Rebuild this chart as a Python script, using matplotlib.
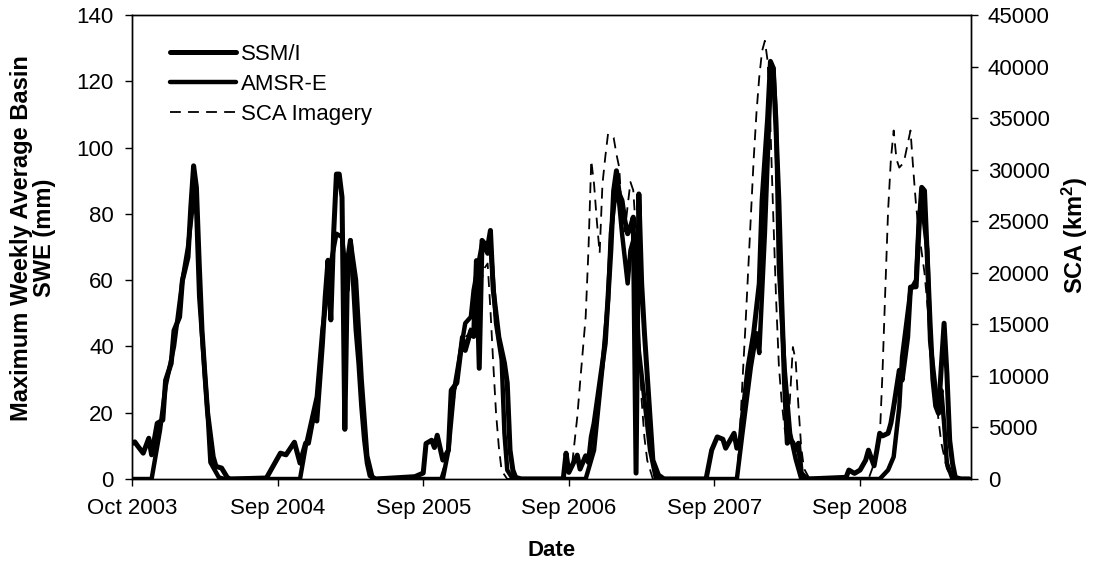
import numpy as np
import pandas as pd
import matplotlib
matplotlib.use("Agg")
import matplotlib.pyplot as plt

plt.rcParams["font.family"] = ["Liberation Sans", "DejaVu Sans"]
plt.rcParams["mathtext.fontset"] = "custom"
plt.rcParams["mathtext.bf"] = "Liberation Sans:bold"
plt.rcParams["mathtext.rm"] = "Liberation Sans"

# --- weekly series, week 0 = 1 Oct 2003 ---
start = pd.Timestamp("2003-10-01")

ssmi_weeks = [0, 1, 2, 4, 6, 7, 9, 11, 12, 14, 15, 17, 18, 20, 21, 22, 23, 24, 25, 26, 27, 29, 30, 32, 34, 35,
              48, 51, 53, 55, 58, 60, 62, 63, 65, 66, 68, 69, 70, 71, 72, 73, 74, 75, 76, 77, 78, 79, 80, 81, 82, 83, 84, 85, 87,
              101, 104, 105, 107, 108, 109, 111, 113, 114, 116, 118, 119, 121, 122, 123, 124, 125, 127, 128, 129, 131, 133, 134, 135, 136, 137, 139,
              154, 155, 156, 159, 160, 162, 163, 164, 165, 167, 169, 171, 172, 173, 174, 175, 176, 177, 178, 179, 180, 181, 182, 183, 185, 186, 188, 190,
              205, 207, 209, 211, 212, 215, 216, 217, 218, 220, 222, 224, 225, 227, 228, 229, 230, 231, 232, 233, 234, 235, 236, 237, 238, 239, 241,
              255, 256, 258, 260, 262, 263, 265, 266, 267, 268, 270, 271, 272, 274, 275, 277, 278, 280, 281, 282, 283, 284, 285, 286, 287, 288, 289, 290, 291, 292, 293, 294, 296, 299]
ssmi_swe = [10.7, 11.2, 10, 7.8, 12.3, 7.3, 16.8, 17.8, 29.8, 34.9, 44.8, 48.9, 59.9, 66.9, 82, 94.5, 88, 65, 44.8, 31.9, 20, 6.7, 3.8, 3.3, 0.5, 0,
            0.3, 4.8, 7.8, 7.3, 11.1, 4.8, 10.8, 10.8, 19.9, 17.5, 40.9, 55, 66, 48, 74, 92, 92, 85, 15, 66, 72, 60, 45, 35, 22, 12, 4.8, 1, 0,
            0.7, 1.8, 10.7, 11.7, 9.5, 13.2, 5.7, 8.7, 26.8, 29, 42.8, 38.8, 44.8, 43, 65.9, 33.4, 72, 70, 75, 57, 42.8, 35, 29, 8.7, 2.7, 0.5, 0,
            0, 7.8, 2, 7.2, 3, 7, 5, 12.7, 16.8, 28.9, 40.9, 69, 87, 93, 86, 84, 78, 74, 76, 79, 1.8, 86, 59, 44, 18.8, 5.7, 1.2, 0,
            0, 8.7, 12.7, 12, 9.3, 13.8, 9.3, 10, 18.8, 33.8, 44, 59, 84, 109, 126, 124, 105, 84, 54, 29, 10.8, 12, 11, 8.7, 10.8, 1.8, 0,
            0.5, 2.7, 1.7, 2.7, 5.7, 8.7, 4, 8.7, 13.8, 13, 13.8, 16.8, 21.8, 32.8, 29.8, 42.8, 57.9, 58, 75, 88, 87, 67, 47, 30, 22, 19.8, 33.8, 47, 32, 11.7, 4.8, 0.5, 0, 0]

amsre_weeks = [0, 7, 10, 12, 15, 18, 20, 22, 23, 24, 27, 28, 31, 33,
               60, 62, 66, 68, 71, 73, 75, 76, 77, 78, 80, 82, 84, 86,
               111, 113, 115, 117, 119, 121, 122, 125, 127, 128, 130, 132, 133, 134, 136,
               162, 165, 168, 170, 171, 173, 174, 175, 177, 178, 179, 180, 181, 183, 185, 187, 189,
               216, 218, 221, 223, 224, 226, 228, 229, 230, 231, 233, 235, 237, 239,
               267, 270, 272, 274, 275, 278, 280, 281, 282, 284, 285, 287, 288, 289, 290, 291, 293, 299]
amsre_swe = [0, 0, 14.7, 28, 40, 59.9, 70, 85, 80, 55, 20, 5, 0.5, 0,
             0, 9.7, 24.8, 45, 65, 74, 73, 65, 57, 72, 60, 30, 7, 0,
             0, 8.7, 26.8, 36.8, 47, 48.9, 57, 71, 68, 71, 47, 36, 13.8, 2.7, 0,
             0, 8.7, 33.8, 54, 74, 89, 83, 74, 59, 69, 72, 58, 38.8, 23.8, 8.7, 0.5, 0,
             0, 13.8, 33.8, 44, 38, 74, 119, 124, 109, 64, 33.8, 13.8, 6, 0,
             0, 2.7, 6.7, 21.8, 36.8, 57, 60, 79, 84, 69, 41.8, 26.8, 21, 26.8, 16.8, 4.8, 0, 0]

sca_weeks = [104, 110, 113, 114, 116, 118, 120, 122, 124, 126, 127, 128, 129, 130, 131, 132, 134,
             154, 156, 157, 158, 159, 160, 162, 163, 164, 165, 166, 167, 168, 169, 170, 171, 172, 173, 174, 175, 176, 177, 178, 179, 180, 181, 182, 183, 184, 186,
             216, 217, 218, 219, 220, 221, 222, 223, 224, 225, 226, 227, 228, 229, 230, 231, 232, 233, 234, 235, 236, 237, 238, 239, 240, 242,
             263, 265, 267, 268, 269, 270, 271, 272, 273, 274, 275, 276, 277, 278, 279, 280, 281, 283, 285, 287, 289, 291, 293, 299]
sca_km2 = [0, 0, 2500, 6000, 9500, 13500, 14000, 15500, 18500, 20500, 20900, 16400, 11200, 6400, 3100, 800, 0,
           0, 1500, 1000, 3500, 6000, 9300, 15700, 22200, 30900, 28600, 25000, 21900, 28600, 31200, 33500, 33300, 33100, 31500, 30200, 25400, 24000, 26500, 28800, 28000, 23800, 14100, 7600, 4000, 1800, 0,
           0, 4000, 9500, 14500, 20000, 25500, 31000, 35500, 39000, 41500, 42500, 40500, 34000, 25500, 17500, 11000, 7500, 5000, 3500, 8000, 12800, 11500, 7000, 3000, 1000, 0,
           0, 1500, 3800, 10300, 18300, 26000, 31000, 33800, 31000, 30200, 30500, 31200, 32500, 33800, 30000, 26500, 24000, 20000, 14000, 8000, 3500, 1000, 0, 0]

tick_weeks = [0, 52, 104, 156, 208, 260]


def to_dates(weeks):
    return start + pd.to_timedelta(np.array(weeks, dtype=float) * 7, unit="D")


fig = plt.figure(figsize=(11, 5.66), dpi=100, facecolor="white")
ax = fig.add_axes([0.12, 0.1537, 0.7627, 0.8198])
ax2 = ax.twinx()

l1, = ax.plot(to_dates(ssmi_weeks), ssmi_swe, color="black", lw=3.6,
              solid_joinstyle="round", solid_capstyle="round", label="SSM/I")
l2, = ax.plot(to_dates(amsre_weeks), amsre_swe, color="black", lw=3.2,
              solid_joinstyle="round", solid_capstyle="round", label="AMSR-E")
l3, = ax2.plot(to_dates(sca_weeks), sca_km2, color="black", lw=1.3, ls=(0, (6, 4)), label="SCA Imagery")

ax.set_xlim(to_dates([0])[0], to_dates([299.6])[0])
ax.set_ylim(0, 140)
ax.set_yticks(range(0, 141, 20))
ax2.set_ylim(0, 45000)
ax2.set_yticks(range(0, 45001, 5000))

tick_dates = to_dates(tick_weeks)
ax.set_xticks(tick_dates)
ax.set_xticklabels([d.strftime("%b %Y") for d in tick_dates])

ax.tick_params(axis="both", direction="out", length=5, width=1, labelsize=16, colors="black")
ax.tick_params(axis="y", pad=8)
ax.tick_params(axis="x", pad=9)
ax2.tick_params(axis="y", direction="out", length=5, width=1, labelsize=16, pad=7)

for a in (ax, ax2):
    for s in a.spines.values():
        s.set_linewidth(1)
        s.set_color("black")

ax.set_ylabel("Maximum Weekly Average Basin\nSWE (mm)", fontsize=17, fontweight="bold",
              va="center", linespacing=1.05)
ax.yaxis.set_label_coords(-0.118, 0.52)
ax2.set_ylabel(r"SCA (km$\mathbf{^2}$)", fontsize=17, fontweight="bold", va="center")
ax2.yaxis.set_label_coords(1.124, 0.525)
ax.set_xlabel("Date", fontsize=16, fontweight="bold")
ax.xaxis.set_label_coords(0.5, -0.131)

ax.legend(handles=[l1, l2, l3], loc="upper left", bbox_to_anchor=(0.045, 0.938),
          frameon=False, fontsize=16, handlelength=3.0, handletextpad=0.2,
          labelspacing=0.4, borderpad=0, borderaxespad=0)

fig.savefig("out.png", dpi=100, facecolor="white")
